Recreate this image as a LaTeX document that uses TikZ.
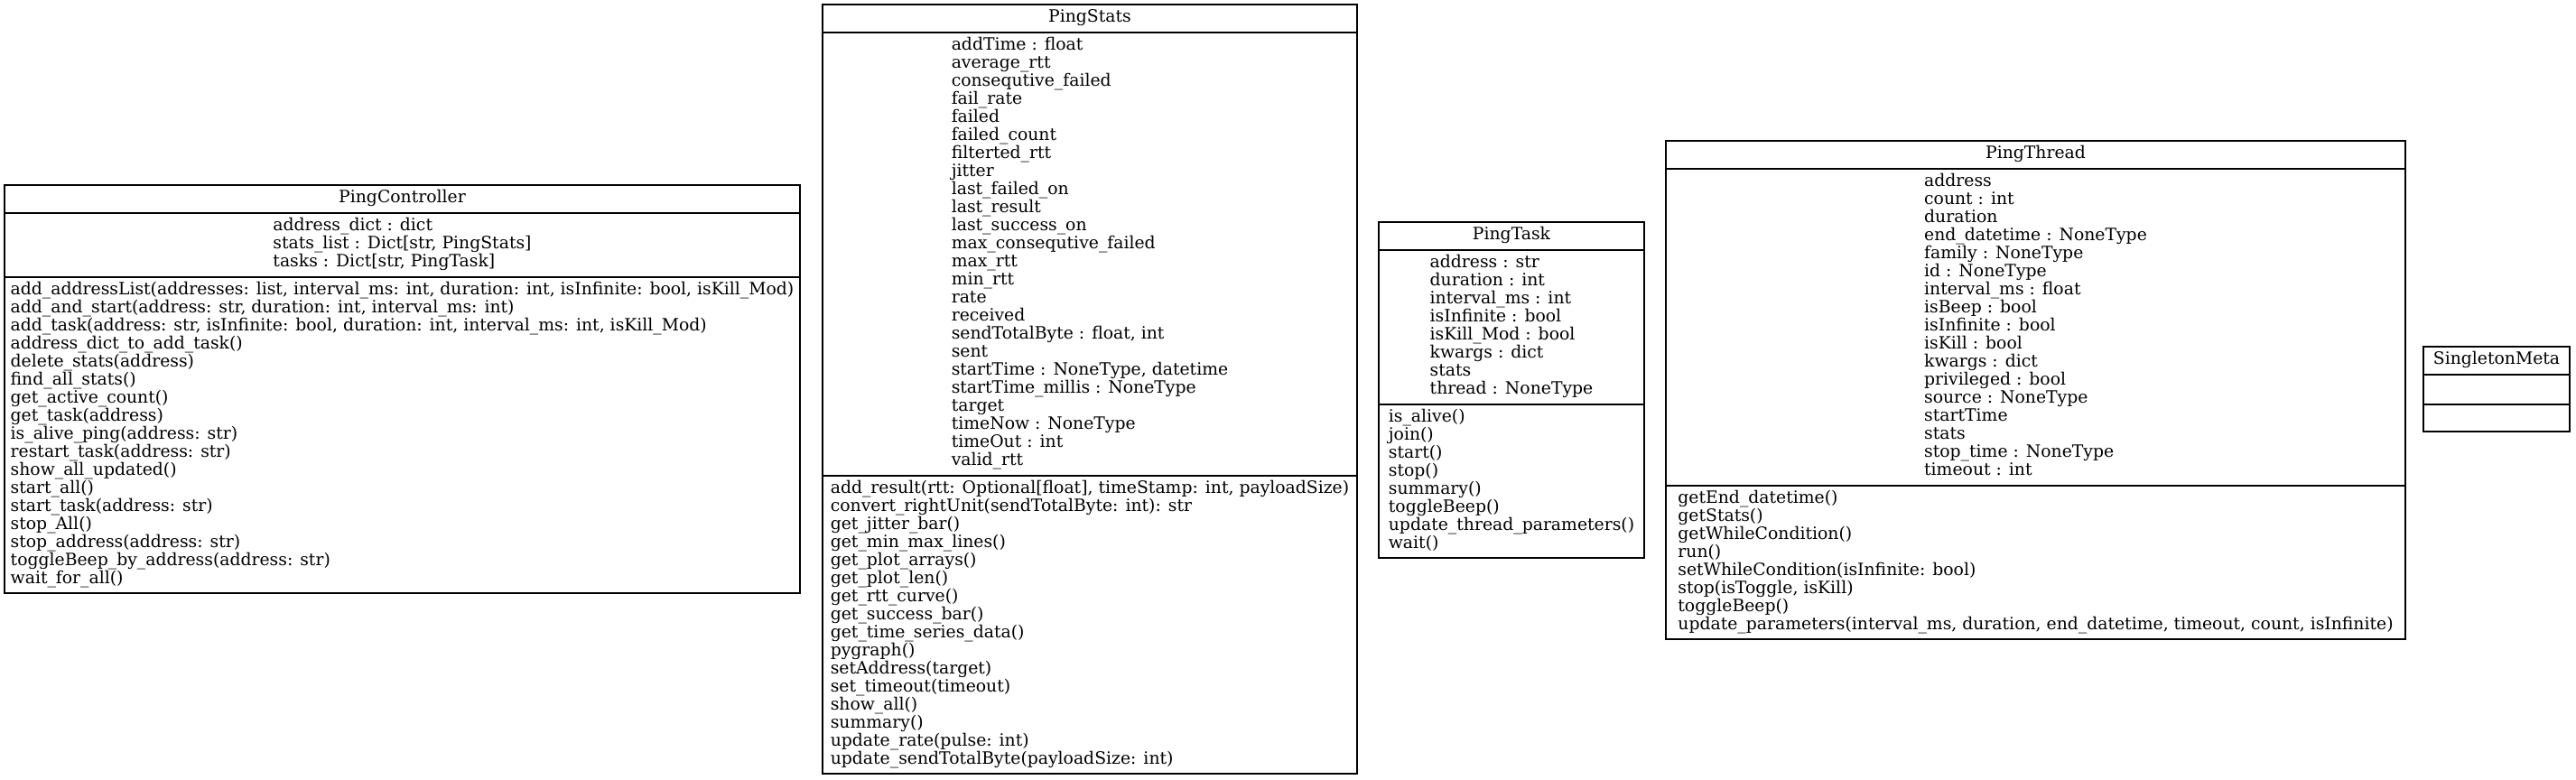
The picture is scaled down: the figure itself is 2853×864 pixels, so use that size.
\documentclass[tikz,border=0pt]{standalone}
\usepackage{fontspec}
\setmainfont{DejaVu Serif}
\newcommand\umlfont{\fontsize{18.8}{20}\selectfont}
\begin{document}
\lineskiplimit=-100pt
\normallineskiplimit=-100pt
\begin{tikzpicture}[x=1pt,y=-1pt,
  boxline/.style={draw=black, line width=1.6pt},
  txt/.style={inner sep=0pt, align=left, font=\umlfont}]
\useasboundingbox[fill=white] (0,0) rectangle (2853,864);

% ---------------- PingController
\draw[boxline] (5,205) rectangle (886,657);
\draw[boxline] (5,236) -- (886,236);
\draw[boxline] (5,307) -- (886,307);
\node[txt] (pcname) at (445.5,220.5) {\strut PingController};
\node[txt] (pcattr) at (445.5,271.5) {\strut address\_dict : dict\\
\strut stats\_list : Dict[str, PingStats]\\
\strut tasks : Dict[str, PingTask]};
\node[txt] (pcmeth) at (445.5,482) {\strut add\_addressList(addresses: list, interval\_ms: int, duration: int, isInfinite: bool, isKill\_Mod)\\
\strut add\_and\_start(address: str, duration: int, interval\_ms: int)\\
\strut add\_task(address: str, isInfinite: bool, duration: int, interval\_ms: int, isKill\_Mod)\\
\strut address\_dict\_to\_add\_task()\\
\strut delete\_stats(address)\\
\strut find\_all\_stats()\\
\strut get\_active\_count()\\
\strut get\_task(address)\\
\strut is\_alive\_ping(address: str)\\
\strut restart\_task(address: str)\\
\strut show\_all\_updated()\\
\strut start\_all()\\
\strut start\_task(address: str)\\
\strut stop\_All()\\
\strut stop\_address(address: str)\\
\strut toggleBeep\_by\_address(address: str)\\
\strut wait\_for\_all()};

% ---------------- PingStats
\draw[boxline] (911,5) rectangle (1503,857);
\draw[boxline] (911,36) -- (1503,36);
\draw[boxline] (911,527) -- (1503,527);
\node[txt] (psname) at (1207,20.5) {\strut PingStats};
\node[txt] (psattr) at (1207,281.5) {\strut addTime : float\\
\strut average\_rtt\\
\strut consequtive\_failed\\
\strut fail\_rate\\
\strut failed\\
\strut failed\_count\\
\strut filterted\_rtt\\
\strut jitter\\
\strut last\_failed\_on\\
\strut last\_result\\
\strut last\_success\_on\\
\strut max\_consequtive\_failed\\
\strut max\_rtt\\
\strut min\_rtt\\
\strut rate\\
\strut received\\
\strut sendTotalByte : float, int\\
\strut sent\\
\strut startTime : NoneType, datetime\\
\strut startTime\_millis : NoneType\\
\strut target\\
\strut timeNow : NoneType\\
\strut timeOut : int\\
\strut valid\_rtt};
\node[txt] (psmeth) at (1207,692) {\strut add\_result(rtt: Optional[float], timeStamp: int, payloadSize)\\
\strut convert\_rightUnit(sendTotalByte: int): str\\
\strut get\_jitter\_bar()\\
\strut get\_min\_max\_lines()\\
\strut get\_plot\_arrays()\\
\strut get\_plot\_len()\\
\strut get\_rtt\_curve()\\
\strut get\_success\_bar()\\
\strut get\_time\_series\_data()\\
\strut pygraph()\\
\strut setAddress(target)\\
\strut set\_timeout(timeout)\\
\strut show\_all()\\
\strut summary()\\
\strut update\_rate(pulse: int)\\
\strut update\_sendTotalByte(payloadSize: int)};

% ---------------- PingTask
\draw[boxline] (1527,246) rectangle (1821,618);
\draw[boxline] (1527,277) -- (1821,277);
\draw[boxline] (1527,448) -- (1821,448);
\node[txt] (ptname) at (1674,261.5) {\strut PingTask};
\node[txt] (ptattr) at (1674,362.5) {\strut address : str\\
\strut duration : int\\
\strut interval\_ms : int\\
\strut isInfinite : bool\\
\strut isKill\_Mod : bool\\
\strut kwargs : dict\\
\strut stats\\
\strut thread : NoneType};
\node[txt] (ptmeth) at (1674,533) {\strut is\_alive()\\
\strut join()\\
\strut start()\\
\strut stop()\\
\strut summary()\\
\strut toggleBeep()\\
\strut update\_thread\_parameters()\\
\strut wait()};

% ---------------- PingThread
\draw[boxline] (1845,156) rectangle (2664,708);
\draw[boxline] (1845,187) -- (2664,187);
\draw[boxline] (1845,538) -- (2664,538);
\node[txt] (thname) at (2254.5,171.5) {\strut PingThread};
\node[txt] (thattr) at (2254.5,362.5) {\strut address\\
\strut count : int\\
\strut duration\\
\strut end\_datetime : NoneType\\
\strut family : NoneType\\
\strut id : NoneType\\
\strut interval\_ms : float\\
\strut isBeep : bool\\
\strut isInfinite : bool\\
\strut isKill : bool\\
\strut kwargs : dict\\
\strut privileged : bool\\
\strut source : NoneType\\
\strut startTime\\
\strut stats\\
\strut stop\_time : NoneType\\
\strut timeout : int};
\node[txt] (thmeth) at (2254.5,623) {\strut getEnd\_datetime()\\
\strut getStats()\\
\strut getWhileCondition()\\
\strut run()\\
\strut setWhileCondition(isInfinite: bool)\\
\strut stop(isToggle, isKill)\\
\strut toggleBeep()\\
\strut update\_parameters(interval\_ms, duration, end\_datetime, timeout, count, isInfinite)};

% ---------------- SingletonMeta
\draw[boxline] (2684,384) rectangle (2846,478);
\draw[boxline] (2684,415) -- (2846,415);
\draw[boxline] (2684,448) -- (2846,448);
\node[txt] (smname) at (2765,399.5) {\strut SingletonMeta};
\end{tikzpicture}
\end{document}
